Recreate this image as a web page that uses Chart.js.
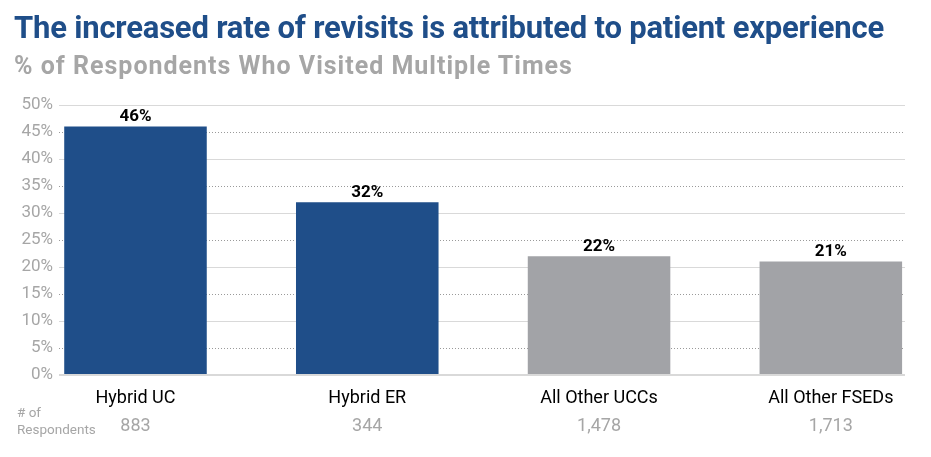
<!DOCTYPE html>
<html>
<head>
<meta charset="utf-8">
<script src="https://cdn.jsdelivr.net/npm/chart.js@4"></script>
<style>
  body { margin: 0; background: #fff; }
  #wrap { position: relative; width: 931px; height: 457px; overflow: hidden; }
  #title { position: absolute; left: 14px; top: 10px; font-family: Roboto, sans-serif; line-height: 36px;
    font-weight: bold; font-size: 31px; color: #1f4e89; white-space: nowrap; letter-spacing: -0.2px; }
  #subtitle { position: absolute; left: 14px; top: 51px; font-family: Roboto, sans-serif; line-height: 30px;
    font-weight: bold; font-size: 25px; color: #a6a6a6; white-space: nowrap; letter-spacing: 1px; }
  #resp { position: absolute; left: 17px; top: 404px; font-family: Roboto, sans-serif; font-size: 13.5px; line-height: 17px; color: #a6a6a6; }
  canvas { position: absolute; left: 0; top: 0; }
</style>
</head>
<body>
<div id="wrap">
  <canvas id="myChart" width="931" height="457"></canvas>
  <div id="title">The increased rate of revisits is attributed to patient experience</div>
  <div id="subtitle">% of Respondents Who Visited Multiple Times</div>
  <div id="resp"># of<br>Respondents</div>
</div>
<script>
const categories = ['Hybrid UC', 'Hybrid ER', 'All Other UCCs', 'All Other FSEDs'];
const revisitPct = [46, 32, 22, 21];
const respondents = ['883', '344', '1,478', '1,713'];
const barColors = ['#1f4e89', '#1f4e89', '#a2a3a7', '#a2a3a7'];

const valueLabels = {
    id: 'valueLabels',
    afterDatasetsDraw(chart) {
        const ctx = chart.ctx;
        const meta = chart.getDatasetMeta(0);
        ctx.save();
        ctx.font = 'bold 17px Roboto';
        ctx.fillStyle = '#000';
        ctx.textAlign = 'center';
        ctx.textBaseline = 'bottom';
        meta.data.forEach((bar, i) => {
            ctx.fillText(revisitPct[i] + '%', bar.x, bar.y - 1);
        });
        ctx.restore();
    }
};

const catTicks = (scale) => {
    scale.ticks = categories.map((c, i) => ({ value: i }));
};

const ctx = document.getElementById('myChart');
new Chart(ctx, {
    type: 'bar',
    data: {
        datasets: [{
            data: revisitPct.map((v, i) => ({ x: i, y: v })),
            backgroundColor: barColors,
            barPercentage: 0.615,
            categoryPercentage: 1
        }]
    },
    options: {
        responsive: false,
        animation: false,
        layout: { padding: { top: 105, right: 26, bottom: 4, left: 0 } },
        plugins: { legend: { display: false }, tooltip: { enabled: false } },
        scales: {
            x: {
                type: 'linear',
                position: 'bottom',
                offset: false,
                min: -0.33,
                max: 3.32,
                afterBuildTicks: catTicks,
                afterFit: (s) => { s.height = 33; },
                grid: { display: false, offset: false },
                border: { display: false },
                ticks: {
                    autoSkip: false,
                    maxRotation: 0,
                    padding: 5,
                    color: '#000',
                    font: { family: 'Roboto', size: 18 },
                    callback: (v) => categories[v]
                }
            },
            x2: {
                type: 'linear',
                position: 'bottom',
                offset: false,
                min: -0.33,
                max: 3.32,
                afterBuildTicks: catTicks,
                afterFit: (s) => { s.height = 45; },
                grid: { display: false, offset: false },
                border: { display: false },
                ticks: {
                    autoSkip: false,
                    maxRotation: 0,
                    padding: 0,
                    color: '#a6a6a6',
                    font: { family: 'Roboto', size: 18 },
                    callback: (v) => respondents[v]
                }
            },
            y: {
                min: 0,
                max: 50,
                afterFit: (s) => { s.width = 59; },
                ticks: {
                    stepSize: 5,
                    padding: 6,
                    color: '#a6a6a6',
                    font: { family: 'Roboto', size: 17 },
                    callback: (v) => v + '%'
                },
                grid: {
                    drawTicks: false,
                    color: (c) => c.tick.value % 10 === 0 ? '#d9d9d9' : '#9a9a9a',
                    lineWidth: (c) => c.tick.value === 0 ? 2 : 1
                },
                border: {
                    display: false,
                    dash: (c) => c.tick && c.tick.value % 10 !== 0 ? [1, 2] : []
                }
            }
        }
    },
    plugins: [valueLabels]
});
</script>
</body>
</html>
